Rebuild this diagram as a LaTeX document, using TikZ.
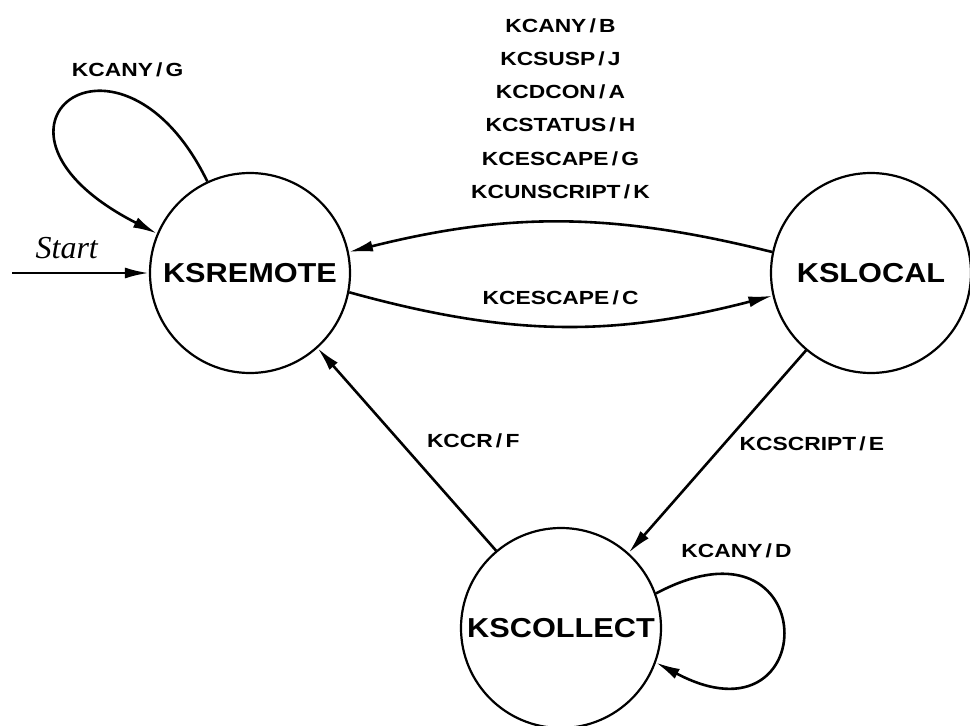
\documentclass[tikz,border=0pt]{standalone}
\usepackage{fontspec}
\setmainfont{Liberation Serif}
\newfontfamily\statefont{Liberation Sans}[FakeStretch=1.12]
\newfontfamily\lblfont{Liberation Sans}[FakeStretch=1.2]
\usetikzlibrary{arrows.meta}

\begin{document}
\begin{tikzpicture}[x=0.5pt, y=0.5pt, line width=1.3pt, state/.style={draw, circle, line width=1.1pt, minimum size=100pt, inner sep=0pt, font=\statefont\bfseries\fontsize{13.7}{16}\selectfont}, arr/.style={-{Latex[length=12pt,width=5.5pt]}}, lbl/.style={inner sep=1pt, align=center, font=\lblfont\bfseries\fontsize{9.5}{16.6}\selectfont}]
\useasboundingbox (0,0) rectangle (970,725);
\node[state] (remote) at (250,452) {KSREMOTE};
\node[state] (local) at (871,452) {KSLOCAL};
\node[state] (collect) at (561,97) {KSCOLLECT};
\coordinate (start) at (12,452);
\draw[arr] (start) -- node[above=3pt,pos=0.4,font=\itshape\fontsize{16}{18}\selectfont] (startlbl) {Start} (remote);
\draw[arr] (remote.115) to[out=116,in=153,out distance=100pt,in distance=115pt] node[lbl,above=8pt,pos=0.27] (anyg) {KCANY\,/\,G} (remote.157);
\draw[arr] (local.168) to[bend right=14] node[lbl,above=10pt] (tolocal) {KCANY\,/\,B\\KCSUSP\,/\,J\\KCDCON\,/\,A\\KCSTATUS\,/\,H\\KCESCAPE\,/\,G\\KCUNSCRIPT\,/\,K} (remote.12);
\draw[arr] (remote.-11) to[bend right=15] node[lbl,above=9pt] (esc) {KCESCAPE\,/\,C} (local.-167);
\draw[arr] (local.230) -- node[lbl,right=6pt,pos=0.46] (script) {KCSCRIPT\,/\,E} (collect.48);
\draw[arr] (collect.130) -- node[lbl,right=12pt,pos=0.54] (ccr) {KCCR\,/\,F} (remote.-48);
\draw[arr] (collect.20) to[out=28,in=-28,distance=95pt] node[lbl,above=7pt,pos=0.2] (anyd) {KCANY\,/\,D} (collect.-20);
\end{tikzpicture}
\end{document}
